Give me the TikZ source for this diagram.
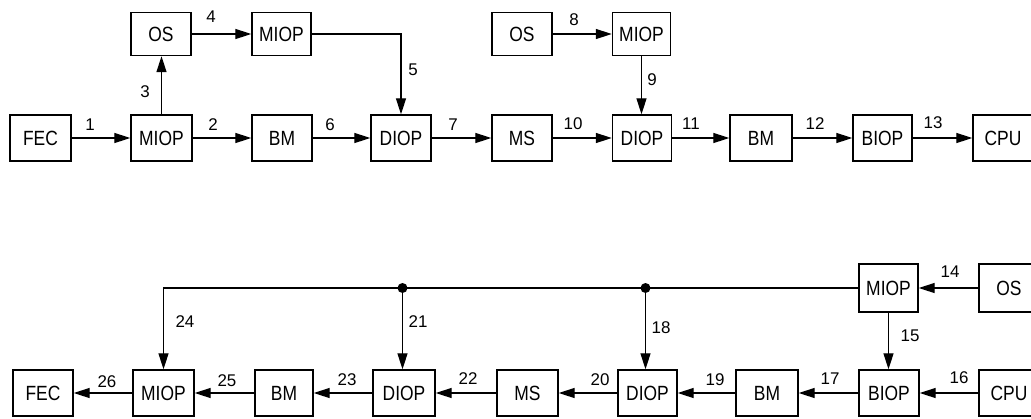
\documentclass[tikz,border=0pt]{standalone}
\usepackage{graphicx}
\usepackage{fontspec}
\setmainfont{Liberation Sans}
\usetikzlibrary{arrows.meta}
\newcommand\bxt[1]{\scalebox{1}[1.18]{#1}}
\begin{document}
\begin{tikzpicture}[x=1bp,y=-1bp,
  box/.style={draw,line width=1.4bp,inner sep=0,minimum width=60bp,minimum height=46bp,font=\fontsize{17.5}{20}\selectfont},
  conn/.style={line width=1.3bp,-{Triangle[length=16bp,width=10bp]}},
  plain/.style={line width=1.3bp},
  num/.style={font=\fontsize{17}{20}\selectfont,inner sep=0}]
\useasboundingbox (0,0) rectangle (1031,418);
\clip (0,0) rectangle (1031,418);
% top row
\node[box,minimum width=61bp] (FEC1) at (40.5,138) {\bxt{FEC}};
\node[box,minimum width=61bp] (MIOP1) at (161.5,138) {\bxt{MIOP}};
\node[box] (BM1) at (282,138) {\bxt{BM}};
\node[box] (DIOP1) at (401,138) {\bxt{DIOP}};
\node[box] (MS1) at (522,138) {\bxt{MS}};
\node[box,minimum width=59bp] (DIOP2) at (642,138) {\bxt{DIOP}};
\node[box,minimum width=62bp] (BM2) at (761,138) {\bxt{BM}};
\node[box,minimum width=59bp] (BIOP1) at (882.5,138) {\bxt{BIOP}};
\node[box] (CPU1) at (1003,138) {\bxt{CPU}};
% upper row
\node[box,minimum height=43bp] (OS1) at (161,34) {\bxt{OS}};
\node[box,minimum height=43bp,minimum width=59bp] (MIOP2) at (281.5,34) {\bxt{MIOP}};
\node[box,minimum height=43bp] (OS2) at (522,34) {\bxt{OS}};
\node[box,minimum height=43bp,minimum width=58bp] (MIOP3) at (641.5,34) {\bxt{MIOP}};
% bottom row
\node[box] (FEC2) at (43,393) {\bxt{FEC}};
\node[box,minimum width=61bp] (MIOP4) at (163.5,393) {\bxt{MIOP}};
\node[box,minimum width=58bp] (BM3) at (284,393) {\bxt{BM}};
\node[box,minimum width=62bp] (DIOP3) at (404,393) {\bxt{DIOP}};
\node[box,minimum width=61bp] (MS2) at (527.5,393) {\bxt{MS}};
\node[box,minimum width=59bp] (DIOP4) at (647.5,393) {\bxt{DIOP}};
\node[box,minimum width=62bp] (BM4) at (767,393) {\bxt{BM}};
\node[box] (BIOP2) at (889,393) {\bxt{BIOP}};
\node[box] (CPU2) at (1009,393) {\bxt{CPU}};
\node[box,minimum height=48bp,minimum width=59bp] (MIOP5) at (888.5,288) {\bxt{MIOP}};
\node[box,minimum height=48bp] (OS3) at (1009,288) {\bxt{OS}};
% top connectors
\draw[conn] (FEC1) -- (MIOP1);
\draw[conn] (MIOP1) -- (BM1);
\draw[conn] (BM1) -- (DIOP1);
\draw[conn] (DIOP1) -- (MS1);
\draw[conn] (MS1) -- (DIOP2);
\draw[conn] (DIOP2) -- (BM2);
\draw[conn] (BM2) -- (BIOP1);
\draw[conn] (BIOP1) -- (CPU1);
\draw[conn] (MIOP1.north) -- (MIOP1.north |- OS1.south);
\draw[conn] (OS1) -- (MIOP2);
\draw[conn] (MIOP2.east) -| (DIOP1.north);
\draw[conn] (OS2) -- (MIOP3);
\draw[conn] (MIOP3.south) -- (MIOP3.south |- DIOP2.north);
% bottom connectors
\draw[conn] (CPU2) -- (BIOP2);
\draw[conn] (BIOP2) -- (BM4);
\draw[conn] (BM4) -- (DIOP4);
\draw[conn] (DIOP4) -- (MS2);
\draw[conn] (MS2) -- (DIOP3);
\draw[conn] (DIOP3) -- (BM3);
\draw[conn] (BM3) -- (MIOP4);
\draw[conn] (MIOP4) -- (FEC2);
\draw[conn] (OS3) -- (MIOP5);
\draw[conn] (MIOP5.south) -- (MIOP5.south |- BIOP2.north);
\draw[conn] (MIOP5.west) -| (MIOP4.north);
\coordinate (d18) at (645.5,288);
\coordinate (d21) at (402.5,288);
\draw[conn] (d18) -- (d18 |- DIOP4.north);
\draw[conn] (d21) -- (d21 |- DIOP3.north);
\fill (d18) circle (5bp);
\fill (d21) circle (5bp);
% labels
\node[num] (l1) at (90,125) {1};
\node[num] (l2) at (213,125) {2};
\node[num] (l3) at (145,92) {3};
\node[num] (l4) at (211,17) {4};
\node[num] (l5) at (413,70) {5};
\node[num] (l6) at (330,125) {6};
\node[num] (l7) at (453,125) {7};
\node[num] (l8) at (574,20) {8};
\node[num] (l9) at (652,80) {9};
\node[num] (l10) at (573,124) {10};
\node[num] (l11) at (691,124) {11};
\node[num] (l12) at (815,124) {12};
\node[num] (l13) at (933,123) {13};
\node[num] (l14) at (950,272) {14};
\node[num] (l15) at (910,336) {15};
\node[num] (l16) at (959,378) {16};
\node[num] (l17) at (830,379) {17};
\node[num] (l18) at (661,328) {18};
\node[num] (l19) at (715,380) {19};
\node[num] (l20) at (600,380) {20};
\node[num] (l21) at (418,322) {21};
\node[num] (l22) at (468,379) {22};
\node[num] (l23) at (347,380) {23};
\node[num] (l24) at (185,322) {24};
\node[num] (l25) at (227,381) {25};
\node[num] (l26) at (107,382) {26};
\end{tikzpicture}
\end{document}
